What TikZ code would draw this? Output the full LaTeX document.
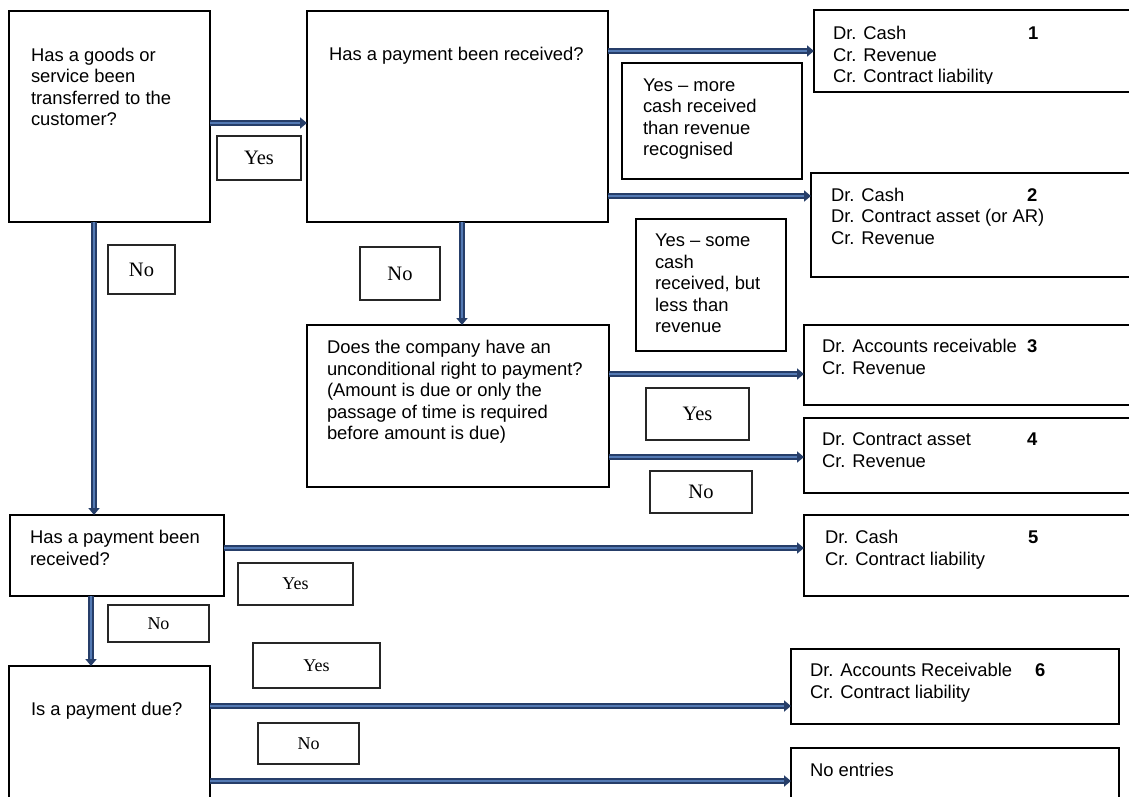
\documentclass[tikz,border=0pt]{standalone}
\usepackage{fontspec}
\setmainfont{Liberation Sans}
\newfontfamily\lserif{Liberation Serif}
\usetikzlibrary{arrows.meta}
\definecolor{arrdark}{RGB}{38,62,105}
\definecolor{arrlight}{RGB}{84,122,180}
\begin{document}
\begin{tikzpicture}[x=1pt,y=-1pt,
  box/.style={draw=black, line width=1.2pt, inner sep=0pt, outer sep=0pt, anchor=north west},
  lbl/.style={draw=black!85, line width=1.2pt, inner sep=0pt, outer sep=0pt, anchor=north west,
    font=\lserif\fontsize{20.5}{24}\selectfont},
  lbls/.style={lbl, font=\lserif\fontsize{18}{21}\selectfont},
  txt/.style={anchor=base west, inner sep=0pt, outer sep=0pt, align=left,
    font=\fontsize{18.4}{21.5}\selectfont},
  num/.style={anchor=base west, inner sep=0pt, outer sep=0pt,
    font=\bfseries\fontsize{18.4}{21.5}\selectfont},
  flow/.style={draw=arrdark, line width=5.5pt, -{Triangle[length=7pt,width=11pt]},
    postaction={draw=arrlight, line width=2.2pt, -, shorten >=7pt}}
]
\useasboundingbox[fill=white] (0,0) rectangle (1129,796);

% main boxes
\node[box, minimum width=201, minimum height=211] (A) at (9,11) {};
\node[box, minimum width=301, minimum height=211] (B) at (307,11) {};
\node[box, minimum width=321, minimum height=82] (R1) at (814,10) {};
\node[box, minimum width=180, minimum height=116] (Ym) at (622,63) {};
\node[box, minimum width=324, minimum height=104] (R2) at (811,173) {};
\node[box, minimum width=150, minimum height=132] (Ys) at (636,219) {};
\node[box, minimum width=302, minimum height=162] (D) at (307,325) {};
\node[box, minimum width=331, minimum height=80] (R3) at (804,325) {};
\node[box, minimum width=331, minimum height=75] (R4) at (804,418) {};
\node[box, minimum width=214, minimum height=81] (C) at (10,515) {};
\node[box, minimum width=331, minimum height=81] (R5) at (804,515) {};
\node[box, minimum width=201, minimum height=150] (E) at (9,666) {};
\node[box, minimum width=328, minimum height=75] (R6) at (791,649) {};
\node[box, minimum width=328, minimum height=70] (R7) at (791,748) {};

% texts (anchor = baseline of last line)
\node[txt] (tA) at (31,125.5) {Has a goods or\\service been\\transferred to the\\customer?};
\node[txt] (tB) at (329,60) {Has a payment been received?};
\begin{scope}
  \clip (814,10) rectangle (1135,83);
  \node[txt] (t1) at (833,82.5) {Dr. Cash\\Cr. Revenue\\Cr. Contract liability};
  \node[num] (n1) at (1028,39.5) {1};
\end{scope}
\node[txt] (tYm) at (643,155.5) {Yes – more\\cash received\\than revenue\\recognised};
\node[txt] (t2) at (831,244) {Dr. Cash\\Dr. Contract asset (or AR)\\Cr. Revenue};
\node[num] (n2) at (1027,201) {2};
\node[txt] (tYs) at (655,332.5) {Yes – some\\cash\\received, but\\less than\\revenue};
\node[txt] (tD) at (327,439.5) {Does the company have an\\unconditional right to payment?\\(Amount is due or only the\\passage of time is required\\before amount is due)};
\node[txt] (t3) at (822,374) {Dr. Accounts receivable\\Cr. Revenue};
\node[num] (n3) at (1027,352.5) {3};
\node[txt] (t4) at (822,467) {Dr. Contract asset\\Cr. Revenue};
\node[num] (n4) at (1027,445.5) {4};
\node[txt] (tC) at (30,565) {Has a payment been\\received?};
\node[txt] (t5) at (825,565) {Dr. Cash\\Cr. Contract liability};
\node[num] (n5) at (1028,543.5) {5};
\node[txt] (tE) at (31,715.5) {Is a payment due?};
\node[txt] (t6) at (810,698) {Dr. Accounts Receivable\\Cr. Contract liability};
\node[num] (n6) at (1035,676.5) {6};
\node[txt] (t7) at (810,776.5) {No entries};

% yes/no labels
\node[lbl, minimum width=84, minimum height=44] (l1) at (217,136) {Yes};
\node[lbl, minimum width=67, minimum height=49] (l2) at (108,245) {No};
\node[lbl, minimum width=80, minimum height=53] (l3) at (360,247) {No};
\node[lbl, minimum width=103, minimum height=52] (l4) at (646,388) {Yes};
\node[lbl, minimum width=102, minimum height=42] (l5) at (650,471) {No};
\node[lbls, minimum width=115, minimum height=42] (l6) at (238,563) {Yes};
\node[lbls, minimum width=101, minimum height=37] (l7) at (108,605) {No};
\node[lbls, minimum width=127, minimum height=45] (l8) at (253,643) {Yes};
\node[lbls, minimum width=101, minimum height=41] (l9) at (258,723) {No};

% connectors
\draw[flow] (A.east |- 0,123) -- (B.west |- 0,123);
\draw[flow] (B.east |- 0,51) -- (R1.west |- 0,51);
\draw[flow] (B.east |- 0,196) -- (R2.west |- 0,196);
\draw[flow] (B.south -| 462,0) -- (D.north -| 462,0);
\draw[flow] (A.south -| 94,0) -- (C.north -| 94,0);
\draw[flow] (D.east |- 0,374) -- (R3.west |- 0,374);
\draw[flow] (D.east |- 0,457) -- (R4.west |- 0,457);
\draw[flow] (C.east |- 0,548) -- (R5.west |- 0,548);
\draw[flow] (C.south -| 91,0) -- (E.north -| 91,0);
\draw[flow] (E.east |- 0,706) -- (R6.west |- 0,706);
\draw[flow] (E.east |- 0,781) -- (R7.west |- 0,781);
\end{tikzpicture}
\end{document}
